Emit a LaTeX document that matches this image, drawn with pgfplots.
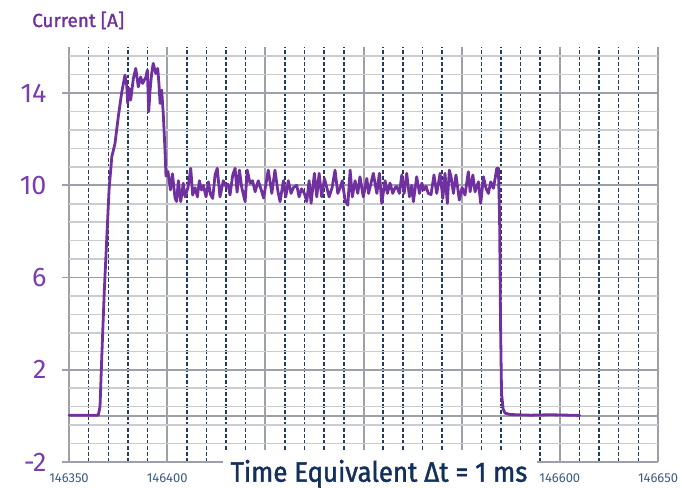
\documentclass[border=0pt]{standalone}
\usepackage{pgfplots}
\pgfplotsset{compat=1.18}
\usepackage{fontspec}
\setmainfont{Fira Sans}
\definecolor{trace}{HTML}{7030A0}
\definecolor{lblpurple}{HTML}{7A3DB0}
\definecolor{navy}{HTML}{1F3C64}
\definecolor{gmaj}{HTML}{9EA0A9}
\definecolor{gmin}{HTML}{CBCCD1}
\definecolor{xlbl}{HTML}{3B5B85}
\definecolor{titlenavy}{HTML}{13305C}
\pgfplotstableread{
x y
146350.0 0.03
146364.9 0.03
146365.8 0.40
146366.7 2.57
146368.0 5.46
146369.2 7.63
146370.4 9.80
146371.8 11.24
146373.4 11.8
146375.1 12.97
146376.8 14.0
146378.5 14.78
146379.4 14.35
146379.9 13.55
146380.7 14.2
146381.4 13.7
146382.8 14.64
146384.0 15.07
146385.3 14.27
146386.5 14.7
146387.5 14.42
146389.2 14.7
146389.9 15.0
146390.6 13.19
146391.3 14.13
146392.1 14.85
146392.9 15.29
146394.2 14.85
146395.2 15.07
146395.8 14.42
146396.4 13.55
146397.2 14.13
146398.0 13.12
146398.9 11.53
146399.4 10.4
146400.4 10.6
146401.7 9.8
146402.7 10.5
146404.0 9.45
146404.8 9.3
146405.7 10.2
146406.9 9.29
146408.2 10.09
146409.1 9.5
146410.6 9.9
146412.0 10.74
146413.0 9.58
146414.2 9.9
146415.4 9.5
146416.4 10.2
146417.5 9.8
146418.4 10.0
146419.8 9.5
146421.0 10.15
146422.1 9.6
146423.2 9.43
146424.4 10.45
146425.5 10.74
146426.9 9.5
146428.6 10.2
146430.0 9.94
146431.0 10.05
146432.0 9.58
146433.4 10.45
146434.6 10.74
146435.6 9.7
146436.8 10.66
146438.0 9.9
146439.7 9.29
146440.8 10.66
146442.2 10.09
146443.5 10.2
146444.8 9.72
146446.4 10.2
146448.2 9.72
146449.1 9.45
146451.5 10.66
146453.3 9.65
146454.9 10.66
146456.3 9.8
146457.5 9.29
146459.2 10.2
146460.4 9.5
146461.7 10.2
146463.1 9.65
146464.3 9.9
146466.0 10.0
146467.2 9.5
146468.4 9.85
146469.9 9.65
146471.1 9.29
146472.3 10.2
146473.3 9.22
146475.0 10.52
146476.2 9.5
146477.4 10.52
146478.7 9.5
146480.1 10.3
146481.3 9.9
146482.5 9.5
146484.0 9.9
146485.5 10.66
146486.9 9.65
146488.1 9.9
146489.2 10.2
146490.6 9.36
146492.0 9.14
146493.2 10.66
146494.3 9.5
146495.7 10.2
146497.1 9.65
146498.2 10.37
146499.9 9.5
146501.7 10.3
146502.6 9.65
146505.0 10.52
146506.8 9.65
146508.1 10.52
146509.3 9.22
146511.0 10.2
146512.2 9.65
146513.5 10.1
146514.9 9.65
146516.1 9.9
146516.9 9.95
146518.3 9.65
146519.5 10.45
146520.7 9.65
146522.0 10.52
146523.4 9.5
146524.6 10.0
146525.4 9.29
146527.1 10.37
146528.5 9.65
146529.7 10.09
146530.8 9.8
146531.9 9.95
146533.0 9.65
146534.4 9.6
146535.9 10.45
146537.3 9.65
146539.0 10.52
146540.4 9.43
146541.5 10.52
146542.7 9.22
146543.7 10.66
146544.6 10.37
146545.8 9.65
146547.1 10.45
146548.8 9.36
146550.2 9.9
146551.7 9.58
146553.4 10.59
146554.3 9.72
146555.7 10.45
146556.8 9.72
146558.5 10.15
146559.7 9.22
146561.1 10.37
146562.4 9.87
146563.6 9.65
146564.8 10.15
146566.2 9.87
146567.9 10.74
146568.7 10.74
146569.3 8.7
146569.8 4.0
146570.3 1.0
146571.1 0.3
146572.1 0.12
146574.7 0.06
146585.0 0.03
146595.0 0.05
146610.1 0.02
}\current
\begin{document}
\begin{tikzpicture}
\useasboundingbox (0,0) rectangle (682bp,488bp);
\begin{axis}[
  at={(69bp,26bp)}, anchor=south west,
  scale only axis, width=589bp, height=415bp,
  xmin=146350, xmax=146650, ymin=-2, ymax=16,
  axis line style={draw=none},
  xtick={146350,146400,146450,146500,146550,146600,146650},
  xticklabels={146350,146400,,,,146600,146650},
  minor xtick={146360,146370,146380,146390,146410,146420,146430,146440,146460,146470,146480,146490,146510,146520,146530,146540,146560,146570,146580,146590,146610,146620,146630,146640},
  ytick={-2,2,6,10,14},
  minor ytick={-1.2,-0.4,0.4,1.2,2.8,3.6,4.4,5.2,6.8,7.6,8.4,9.2,10.8,11.6,12.4,13.2,14.8,15.6},
  extra y ticks={0}, extra y tick labels={},
  extra y tick style={major tick length=0pt, major y grid style={gmaj, line width=1.8bp}},
  grid=both,
  major x grid style={gmaj, line width=2bp},
  minor x grid style={navy, line width=1.5bp, dash pattern=on 3.5bp off 2.5bp},
  major y grid style={gmaj, line width=1.8bp},
  minor y grid style={gmin, line width=1.5bp},
  xtick style={draw=none},
  ytick pos=left, tick align=outside,
  major tick length=7bp, minor tick length=0pt,
  ytick style={gmaj, line width=1.8bp},
  yticklabel style={font=\fontsize{27}{27}\selectfont, text=lblpurple, xshift=-12bp},
  xticklabel style={font=\fontsize{13}{13}\selectfont, text=xlbl, yshift=-1bp},
  /pgf/number format/assume math mode=true,
  clip=false,
]
\addplot[trace, line width=2.8bp, line join=round, line cap=round] table[x=x, y=y] {\current};
\end{axis}
\node[anchor=base west, inner sep=0pt, text=trace, font=\fontsize{19}{19}\selectfont\addfontfeature{FakeBold=1.5}] at (32bp,461bp) {Current [A]};
\fill[white] (223bp,0) rectangle (537bp,38bp);
\node[anchor=base, inner sep=0pt, text=titlenavy] at (379bp,6.3bp) {\scalebox{0.96}[1.04]{\fontsize{27}{27}\selectfont\addfontfeature{FakeBold=1.5}Time Equivalent Δt = 1 ms}};
\end{tikzpicture}
\end{document}
